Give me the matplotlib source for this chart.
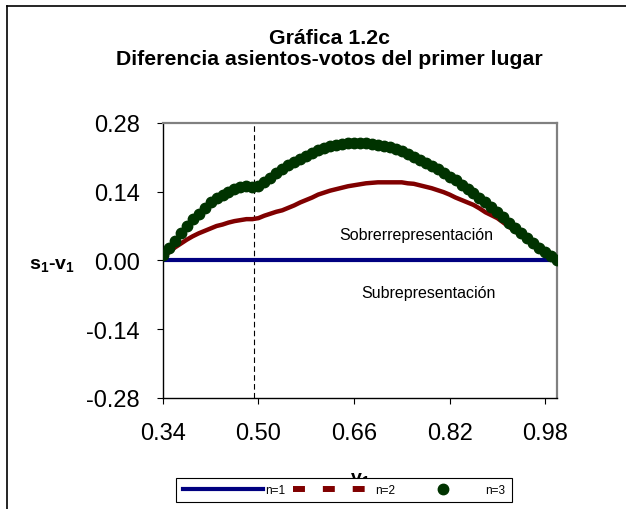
import matplotlib
matplotlib.use("Agg")
import matplotlib.pyplot as plt
from matplotlib.lines import Line2D

plt.rcParams['font.family'] = ['Liberation Sans', 'DejaVu Sans']
plt.rcParams['mathtext.fontset'] = 'custom'
plt.rcParams['mathtext.rm'] = 'Liberation Sans'
plt.rcParams['mathtext.bf'] = 'Liberation Sans:bold'

# votes share of the first party
v1 = [0.34, 0.35, 0.36, 0.37, 0.38, 0.39, 0.40, 0.41, 0.42, 0.43,
      0.44, 0.45, 0.46, 0.47, 0.48, 0.49, 0.50, 0.51, 0.52, 0.53,
      0.54, 0.55, 0.56, 0.57, 0.58, 0.59, 0.60, 0.61, 0.62, 0.63,
      0.64, 0.65, 0.66, 0.67, 0.68, 0.69, 0.70, 0.71, 0.72, 0.73,
      0.74, 0.75, 0.76, 0.77, 0.78, 0.79, 0.80, 0.81, 0.82, 0.83,
      0.84, 0.85, 0.86, 0.87, 0.88, 0.89, 0.90, 0.91, 0.92, 0.93,
      0.94, 0.95, 0.96, 0.97, 0.98, 0.99, 1.00]

# seats minus votes, n=1 (flat at zero)
n1 = [0.0] * len(v1)

# n=2
n2 = [0.005, 0.016, 0.026, 0.034, 0.042, 0.049, 0.055, 0.060, 0.065, 0.070,
      0.073, 0.077, 0.080, 0.082, 0.084, 0.084, 0.086, 0.091, 0.095, 0.099,
      0.102, 0.107, 0.112, 0.118, 0.123, 0.128, 0.134, 0.138, 0.142, 0.145,
      0.148, 0.151, 0.153, 0.155, 0.157, 0.158, 0.159, 0.159, 0.159, 0.159,
      0.159, 0.157, 0.156, 0.153, 0.150, 0.147, 0.143, 0.139, 0.134, 0.128,
      0.123, 0.118, 0.113, 0.106, 0.098, 0.092, 0.086, 0.077, 0.068, 0.059,
      0.050, 0.041, 0.032, 0.023, 0.014, 0.006, 0.000]

# n=3
n3 = [0.010, 0.026, 0.040, 0.055, 0.070, 0.084, 0.095, 0.107, 0.118, 0.127,
      0.133, 0.140, 0.145, 0.149, 0.151, 0.150, 0.152, 0.160, 0.168, 0.178,
      0.186, 0.194, 0.201, 0.207, 0.213, 0.219, 0.225, 0.229, 0.232, 0.235,
      0.237, 0.239, 0.240, 0.240, 0.239, 0.238, 0.236, 0.233, 0.230, 0.226,
      0.222, 0.217, 0.211, 0.205, 0.199, 0.193, 0.186, 0.178, 0.170, 0.163,
      0.154, 0.145, 0.137, 0.127, 0.118, 0.108, 0.099, 0.088, 0.077, 0.066,
      0.056, 0.046, 0.036, 0.026, 0.017, 0.008, 0.000]

xticks = [0.34, 0.50, 0.66, 0.82, 0.98]
yticks = [-0.28, -0.14, 0.00, 0.14, 0.28]
labels = ['n=1', 'n=2', 'n=3']
cutoff = 0.493

navy = '#000080'
maroon = '#800000'
dgreen = '#003300'

fig = plt.figure(figsize=(6.26, 5.10), dpi=100)
ax = fig.add_axes([0.260, 0.218, 0.630, 0.539])

ax.plot(v1, n1, color=navy, lw=3, zorder=2, solid_capstyle='butt')
ax.plot(v1, n2, color=maroon, lw=3.2, zorder=3)
ax.plot(v1, n3, color=dgreen, ls='none', marker='o', ms=7.5, zorder=4)
ax.axvline(cutoff, color='black', lw=0.8, ls=(0, (5, 3)), zorder=1)

ax.text(0.765, 0.044, 'Sobrerrepresentación', fontsize=11.5, ha='center', va='baseline')
ax.text(0.784, -0.074, 'Subrepresentación', fontsize=11.5, ha='center', va='baseline')

ax.set_xlim(0.34, 1.0)
ax.set_ylim(-0.28, 0.28)
ax.set_xticks(xticks)
ax.set_yticks(yticks)
ax.set_xticklabels([f'{t:.2f}' for t in xticks])
ax.set_yticklabels([f'{t:.2f}' for t in yticks])
ax.tick_params(axis='both', direction='out', length=4.5, width=0.8, labelsize=17)
ax.tick_params(axis='x', pad=13)
ax.tick_params(axis='y', pad=12)

for s in ['left', 'bottom']:
    ax.spines[s].set_color('black')
    ax.spines[s].set_linewidth(1)
for s in ['top', 'right']:
    ax.spines[s].set_color('#808080')
    ax.spines[s].set_linewidth(1.6)

# titles
fig.text(0.5256, 1 - 44 / 510, 'Gráfica 1.2c', fontsize=15.3, fontweight='bold',
         ha='center', va='baseline')
fig.text(0.5256, 1 - 65 / 510, 'Diferencia asientos-votos del primer lugar', fontsize=15.3,
         fontweight='bold', ha='center', va='baseline')

# axis labels
fig.text(52 / 626, 1 - 265 / 510, r'$\mathbf{s_1}$-$\mathbf{v_1}$', fontsize=14,
         fontweight='bold', ha='center', va='center')
fig.text(360 / 626, 1 - 471 / 510, r'$\mathbf{v_1}$', fontsize=14, ha='center', va='top')

# outer frame (only top and left visible)
fig.add_artist(Line2D([7 / 626, 1.0], [1 - 7 / 510, 1 - 7 / 510], color='black', lw=1.2,
                      transform=fig.transFigure))
fig.add_artist(Line2D([7 / 626, 7 / 626], [0.0, 1 - 7 / 510], color='black', lw=1.2,
                      transform=fig.transFigure))

handles = [Line2D([], [], color=navy, lw=3),
           Line2D([], [], color=maroon, lw=4.3, ls=(0, (2.0, 3.0))),
           Line2D([], [], color=dgreen, ls='none', marker='o', ms=7.5)]
leg = fig.legend(handles, labels, loc='center', bbox_to_anchor=(344 / 626, 1 - 491 / 510),
                 ncol=3, fontsize=8.5, frameon=True, fancybox=False, framealpha=1,
                 edgecolor='black', handlelength=6.8, handletextpad=0.2,
                 columnspacing=0.6, borderpad=0.55, borderaxespad=0)
leg.get_frame().set_linewidth(0.8)

plt.savefig('out.png', dpi=100)
